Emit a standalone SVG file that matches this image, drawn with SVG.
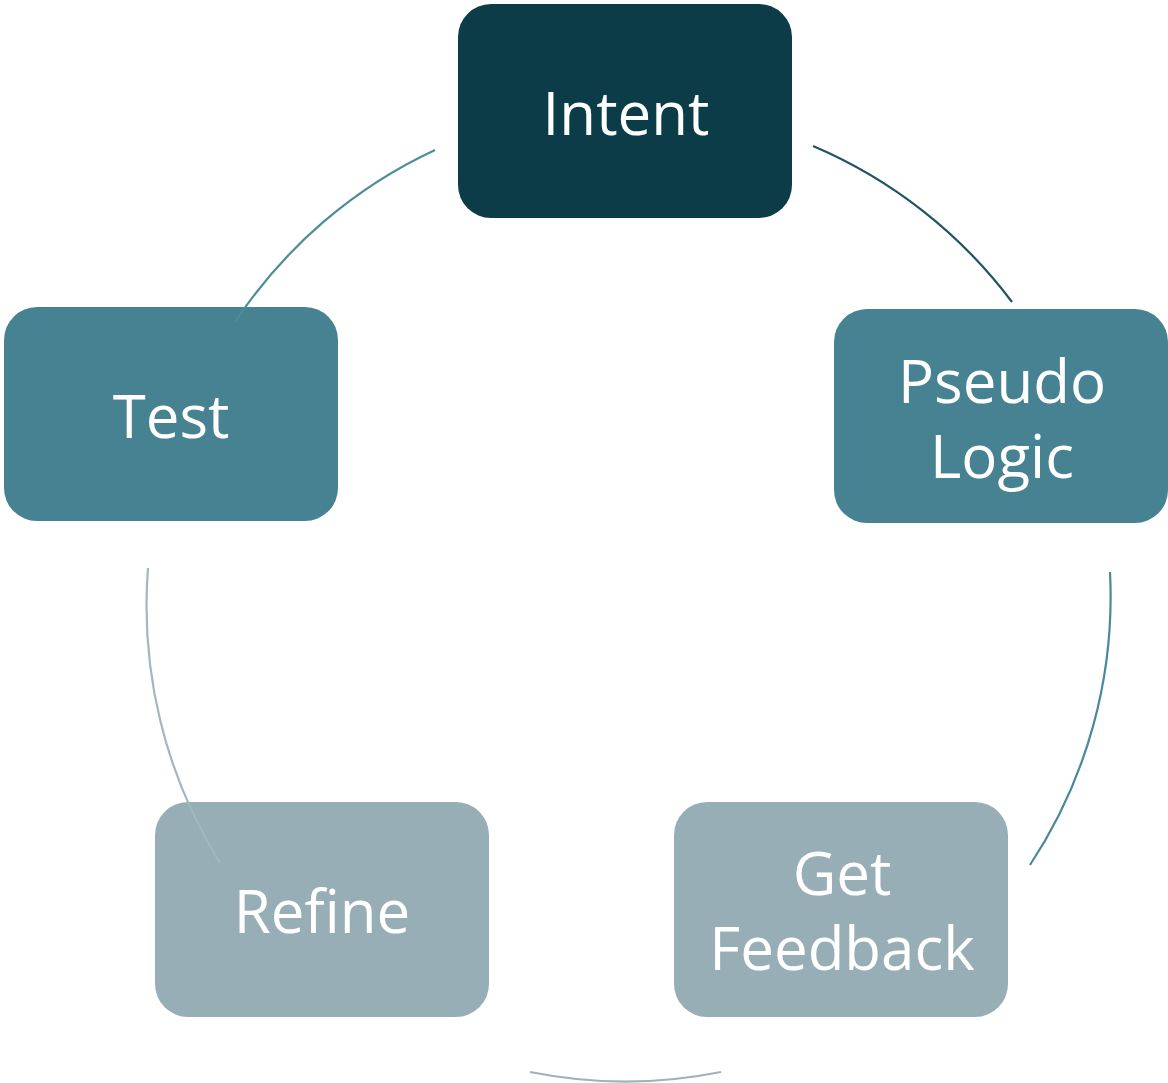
<svg xmlns="http://www.w3.org/2000/svg" width="1168" height="1083" viewBox="0 0 1168 1083">
<style>
.lbl{font-family:"Open Sans","Noto Sans",sans-serif;font-size:60px;fill:#ffffff;text-anchor:middle}
.arc{fill:none;stroke-width:2.2}
</style>
<rect width="1168" height="1083" fill="#ffffff"/>
<g id="node-intent"><rect x="458" y="4" width="334" height="214" rx="33" fill="#0B3C47"/><text class="lbl" x="626" y="135">Intent</text></g>
<g id="node-pseudo"><rect x="834" y="309" width="334" height="214" rx="33" fill="#478292"/><text class="lbl" x="1002" y="403">Pseudo</text><text class="lbl" x="1002" y="478">Logic</text></g>
<g id="node-feedback"><rect x="674" y="802" width="334" height="215" rx="33" fill="#98AEB6"/><text class="lbl" x="842" y="895">Get</text><text class="lbl" x="842" y="970">Feedback</text></g>
<g id="node-refine"><rect x="155" y="802" width="334" height="215" rx="33" fill="#98AEB6"/><text class="lbl" x="322" y="933">Refine</text></g>
<g id="node-test"><rect x="4" y="307" width="334" height="214" rx="33" fill="#478292"/><text class="lbl" x="171" y="438">Test</text></g>
<g id="connectors">
<path class="arc" stroke="#1E5563" d="M 813 146 A 487 487 0 0 1 1012 302"/>
<path class="arc" stroke="#4A8999" d="M 1110 572 A 487 487 0 0 1 1030 865"/>
<path class="arc" stroke="#9DB2BA" d="M 721 1072 A 487 487 0 0 1 530 1072"/>
<path class="arc" stroke="#A3B7BF" d="M 220 863 A 487 487 0 0 1 148 568"/>
<path class="arc" stroke="#4E8D9C" d="M 235 322 A 487 487 0 0 1 435 150"/>
</g>
</svg>
